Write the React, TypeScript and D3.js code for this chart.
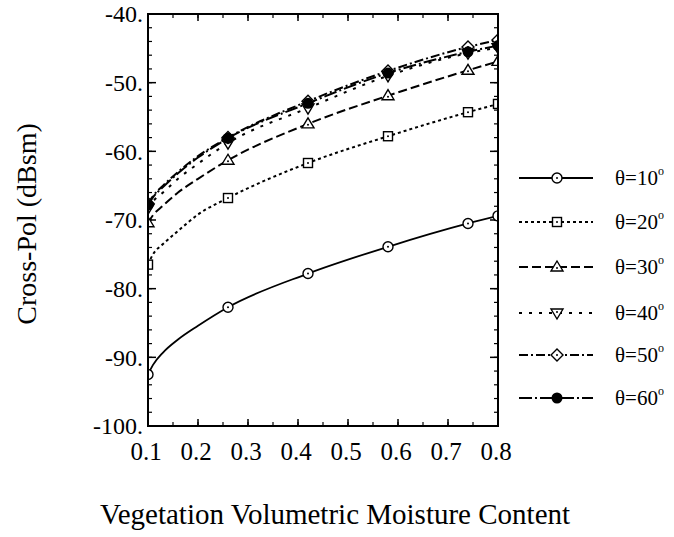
import React from "react";
import * as d3 from "d3";

const xs = [0.1, 0.11, 0.13, 0.16, 0.2, 0.26, 0.42, 0.58, 0.74, 0.8];
const markerXs = [0.1, 0.26, 0.42, 0.58, 0.74, 0.8];
const theta10 = [-92.5, -91.1, -89.3, -87.4, -85.4, -82.7, -77.8, -73.9, -70.5, -69.4];
const theta20 = [-76.5, -75.0, -73.5, -71.6, -69.2, -66.8, -61.7, -57.8, -54.3, -53.1];
const theta30 = [-70.4, -69.3, -67.9, -66.0, -64.0, -61.3, -56.0, -51.9, -48.2, -46.9];
const theta40 = [-68.3, -67.3, -66.0, -64.0, -61.8, -58.8, -53.7, -49.0, -45.7, -44.9];
const theta50 = [-67.6, -66.5, -65.0, -63.0, -60.7, -58.0, -52.7, -48.3, -44.8, -43.8];
const theta60 = [-67.8, -66.7, -65.2, -63.2, -60.9, -58.1, -53.0, -48.6, -45.5, -44.6];
const seriesLabels = ["10", "20", "30", "40", "50", "60"];
const yTicks = [-100, -90, -80, -70, -60, -50, -40];
const xTicks = [0.1, 0.2, 0.3, 0.4, 0.5, 0.6, 0.7, 0.8];

const allSeries = [theta10, theta20, theta30, theta40, theta50, theta60];
const dashes = ["none", "3,3", "9,4", "3,7", "9,3,2,3", "13,3,2,3"];
const markerTypes = ["circle", "square", "triangle", "dtriangle", "diamond", "filled"];

const W = 674;
const H = 537;
const L = 148, R = 498, T = 14, B = 426;
const FONT = "'Liberation Serif', 'Times New Roman', serif";

function Marker({ type, cx, cy }: { type: string; cx: number; cy: number }) {
  const sw = 1.4;
  const dot = <circle cx={cx} cy={cy} r={1} fill="#000" />;
  if (type === "circle")
    return (
      <g>
        <circle cx={cx} cy={cy} r={5} fill="#fff" stroke="#000" strokeWidth={sw} />
        {dot}
      </g>
    );
  if (type === "square")
    return (
      <g>
        <rect x={cx - 4.5} y={cy - 4.5} width={9} height={9} fill="#fff" stroke="#000" strokeWidth={sw} />
        {dot}
      </g>
    );
  if (type === "triangle")
    return (
      <g>
        <path d={`M${cx},${cy - 6}L${cx + 6},${cy + 4}L${cx - 6},${cy + 4}Z`} fill="#fff" stroke="#000" strokeWidth={sw} />
        <circle cx={cx} cy={cy + 1} r={1} fill="#000" />
      </g>
    );
  if (type === "dtriangle")
    return (
      <g>
        <path d={`M${cx},${cy + 6}L${cx + 6},${cy - 4}L${cx - 6},${cy - 4}Z`} fill="#fff" stroke="#000" strokeWidth={sw} />
        <circle cx={cx} cy={cy - 1} r={1} fill="#000" />
      </g>
    );
  if (type === "diamond")
    return (
      <g>
        <path d={`M${cx},${cy - 6}L${cx + 6},${cy}L${cx},${cy + 6}L${cx - 6},${cy}Z`} fill="#fff" stroke="#000" strokeWidth={sw} />
        {dot}
      </g>
    );
  return <circle cx={cx} cy={cy} r={5.5} fill="#000" />;
}

export default function App() {
  const x = d3.scaleLinear().domain([0.1, 0.8]).range([L, R]);
  const y = d3.scaleLinear().domain([-100, -40]).range([B, T]);
  const line = d3
    .line<[number, number]>()
    .x((d) => x(d[0]))
    .y((d) => y(d[1]))
    .curve(d3.curveMonotoneX);

  const yMinor = d3.range(-100, -39.9, 2);
  const xMinor = d3.range(0.1, 0.8001, 0.05);

  const legendX1 = 519, legendX2 = 593, legendMx = 557, legendTx = 615;
  const legendYs = [178, 222, 267, 313, 355, 398];

  return (
    <svg width={W} height={H} style={{ position: "absolute", left: 0, top: 0, background: "#fff" }} fontFamily={FONT}>
      <defs>
        <clipPath id="plotclip">
          <rect x={L} y={T} width={R - L} height={B - T} />
        </clipPath>
      </defs>
      <rect x={0} y={0} width={W} height={H} fill="#fff" />

      {yMinor.map((v, i) => (
        <g key={"ym" + i}>
          <line x1={L} x2={L + 4} y1={y(v)} y2={y(v)} stroke="#000" strokeWidth={1.2} />
          <line x1={R} x2={R - 4} y1={y(v)} y2={y(v)} stroke="#000" strokeWidth={1.2} />
        </g>
      ))}
      {yTicks.map((v, i) => (
        <g key={"yM" + i}>
          <line x1={L} x2={L + 8} y1={y(v)} y2={y(v)} stroke="#000" strokeWidth={1.5} />
          <line x1={R} x2={R - 8} y1={y(v)} y2={y(v)} stroke="#000" strokeWidth={1.5} />
          <text x={143} y={y(v)} dy="0.35em" textAnchor="end" fontSize={24}>
            {`${v}.`}
          </text>
        </g>
      ))}
      {xMinor.map((v, i) => (
        <g key={"xm" + i}>
          <line x1={x(v)} x2={x(v)} y1={B} y2={B - 4} stroke="#000" strokeWidth={1.2} />
          <line x1={x(v)} x2={x(v)} y1={T} y2={T + 4} stroke="#000" strokeWidth={1.2} />
        </g>
      ))}
      {xTicks.map((v, i) => (
        <g key={"xM" + i}>
          <line x1={x(v)} x2={x(v)} y1={B} y2={B - 7} stroke="#000" strokeWidth={1.5} />
          <line x1={x(v)} x2={x(v)} y1={T} y2={T + 7} stroke="#000" strokeWidth={1.5} />
          <text x={x(v) - 2} y={460} textAnchor="middle" fontSize={25}>
            {d3.format(".1f")(v)}
          </text>
        </g>
      ))}

      <g clipPath="url(#plotclip)">
        {allSeries.map((s, si) => (
          <path
            key={"l" + si}
            d={line(xs.map((xv, i) => [xv, s[i]] as [number, number])) || ""}
            fill="none"
            stroke="#000"
            strokeWidth={si === 0 ? 1.8 : 2}
            strokeDasharray={dashes[si]}
          />
        ))}
        {allSeries.map((s, si) =>
          markerXs.map((mx, mi) => {
            const idx = xs.indexOf(mx);
            return <Marker key={"m" + si + "-" + mi} type={markerTypes[si]} cx={x(mx)} cy={y(s[idx])} />;
          })
        )}
      </g>

      <rect x={L} y={T} width={R - L} height={B - T} fill="none" stroke="#000" strokeWidth={2} />

      {seriesLabels.map((lab, i) => (
        <g key={"lg" + i}>
          <line
            x1={legendX1}
            x2={legendX2}
            y1={legendYs[i]}
            y2={legendYs[i]}
            stroke="#000"
            strokeWidth={i === 0 ? 1.8 : 2}
            strokeDasharray={dashes[i]}
          />
          <Marker type={markerTypes[i]} cx={legendMx} cy={legendYs[i]} />
          <text x={legendTx} y={legendYs[i]} dy="0.35em" fontSize={21}>
            {`θ=${lab}`}
            <tspan fontSize={12} dy="-0.9em">o</tspan>
          </text>
        </g>
      ))}

      <text transform={`translate(36,224) rotate(-90)`} textAnchor="middle" fontSize={28}>
        Cross-Pol (dBsm)
      </text>
      <text x={335} y={524} textAnchor="middle" fontSize={29}>
        Vegetation Volumetric Moisture Content
      </text>
    </svg>
  );
}
